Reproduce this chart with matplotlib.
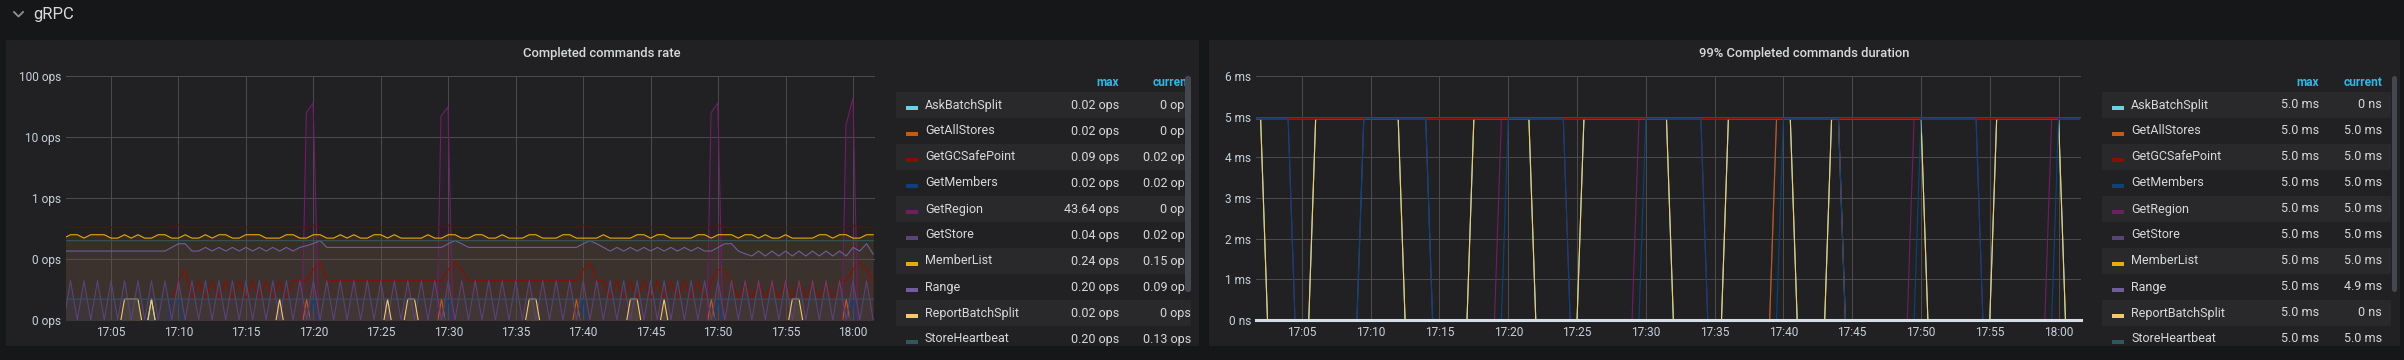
import numpy as np
import matplotlib.pyplot as plt
from matplotlib.patches import Rectangle, FancyBboxPatch

plt.rcParams['font.family'] = ['Roboto', 'DejaVu Sans']

# time is measured in minutes after 17:00
time_ticks = [5, 10, 15, 20, 25, 30, 35, 40, 45, 50, 55, 60]
time_labels = ['17:05', '17:10', '17:15', '17:20', '17:25', '17:30',
               '17:35', '17:40', '17:45', '17:50', '17:55', '18:00']

rate_ticks = [0.01, 0.1, 1, 10, 100]
rate_labels = ['0 ops', '0 ops', '1 ops', '10 ops', '100 ops']
dur_ticks = [0, 1, 2, 3, 4, 5, 6]
dur_labels = ['0 ns', '1 ms', '2 ms', '3 ms', '4 ms', '5 ms', '6 ms']

legend_names = ['AskBatchSplit', 'GetAllStores', 'GetGCSafePoint', 'GetMembers', 'GetRegion',
                'GetStore', 'MemberList', 'Range', 'ReportBatchSplit', 'StoreHeartbeat']
rate_max = ['0.02 ops', '0.02 ops', '0.09 ops', '0.02 ops', '43.64 ops',
            '0.04 ops', '0.24 ops', '0.20 ops', '0.02 ops', '0.20 ops']
rate_current = ['0 ops', '0 ops', '0.02 ops', '0.02 ops', '0 ops',
                '0.02 ops', '0.15 ops', '0.09 ops', '0 ops', '0.13 ops']
dur_max = ['5.0 ms', '5.0 ms', '5.0 ms', '5.0 ms', '5.0 ms',
           '5.0 ms', '5.0 ms', '5.0 ms', '5.0 ms', '5.0 ms']
dur_current = ['0 ns', '5.0 ms', '5.0 ms', '5.0 ms', '5.0 ms',
               '5.0 ms', '5.0 ms', '4.9 ms', '0 ns', '5.0 ms']

colors = {'AskBatchSplit': '#6ED0E0', 'GetAllStores': '#C15C17', 'GetGCSafePoint': '#890F02',
          'GetMembers': '#0A437C', 'GetRegion': '#6D1F62', 'GetStore': '#584477',
          'MemberList': '#E5AC0E', 'Range': '#705DA0', 'ReportBatchSplit': '#F2C96D',
          'StoreHeartbeat': '#2F575E', 'Tso': '#58140C', 'UpdateGCSafePoint': '#34506E'}

# ---- Completed commands rate (ops), 30 s samples starting 17:01:30 ----
rate_start, rate_step = 1.5, 0.5

get_store_rate = [.01, .044, .01, .044, .01, .044, .01, .044, .01, .044,
                  .01, .044, .01, .044, .01, .044, .01, .044, .01, .044,
                  .01, .044, .01, .044, .01, .044, .01, .044, .01, .044,
                  .01, .044, .01, .044, .01, .044, .01, .044, .01, .044,
                  .01, .044, .01, .044, .01, .044, .01, .044, .01, .044,
                  .01, .044, .01, .044, .01, .044, .01, .044, .01, .044,
                  .01, .044, .01, .044, .01, .044, .01, .044, .01, .044,
                  .01, .044, .01, .044, .01, .044, .01, .044, .01, .044,
                  .01, .044, .01, .044, .01, .044, .01, .044, .01, .044,
                  .01, .044, .01, .044, .01, .044, .01, .044, .01, .044,
                  .01, .044, .01, .044, .01, .044, .01, .044, .01, .044,
                  .01, .044, .01, .044, .01, .044, .01, .044, .01, .044, .01]

gc_rate = [0, 0, 0, 0, 0, 0, 0, 0, 0, 0, 0, 0, 0, 0, 0, 0,
           .022, .044, .067, .022,
           .044, .022, .044, .022, .044, .022, .044, .022, .044, .022, .044, .022, .044, .022, .044,
           .044, .044, .067, .089, .044,
           .044, .044, .044, .044, .044, .044, .044, .044, .044, .044, .044, .044, .044, .044, .044, .044, .044,
           .067, .089, .067,
           .044, .044, .044, .044, .044, .044, .044, .044, .044, .044, .044, .044, .044, .044, .044, .044, .044,
           .067, .089, .044, .044,
           .022, .044, .022, .044, .022, .044, .022, .044, .022, .044, .022, .044, .022, .044, .022,
           .044, .067, .067,
           .044, .022, .044, .022, .044, .022, .044, .022, .044, .022, .044, .022, .044, .022, .044, .022, .044,
           .044, .067, .089, .067, .044]

range_rate = [.135, .135, .135, .135, .135, .135, .135, .135, .135, .135, .135, .135, .135, .135, .135, .135,
              .155, .178, .178, .135,
              .135, .155, .135, .155, .135, .155, .135, .155, .135, .155, .135, .155, .135, .155, .135,
              .155, .165, .18, .2, .155,
              .155, .155, .155, .155, .155, .155, .155, .155, .155, .155, .155, .155, .155, .155, .155, .155, .155,
              .178, .2, .178,
              .155, .155, .155, .155, .155, .155, .155, .155, .155, .155, .155, .155, .155, .155, .155, .155, .155,
              .178, .2, .178, .155, .135,
              .155, .135, .155, .135, .155, .135, .155, .135, .155, .135, .155, .135, .155, .135,
              .135, .155, .178, .178, .135, .122, .112,
              .135, .112, .135, .112, .135, .112, .135, .112, .135, .112, .135, .112, .135, .112,
              .155, .135, .178, .12]

member_list_rate = [.22, .25, .25, .22, .25, .25, .25, .22, .22, .25,
                    .22, .25, .22, .22, .25, .25, .22, .22, .25, .22,
                    .22, .25, .22, .25, .25, .22, .22, .25, .25, .25,
                    .22, .22, .22, .25, .25, .22, .22, .25, .25, .22,
                    .22, .25, .22, .25, .22, .22, .25, .25, .22, .25,
                    .22, .22, .22, .22, .25, .22, .22, .25, .25, .22,
                    .22, .25, .25, .22, .22, .25, .22, .22, .22, .25,
                    .25, .22, .22, .22, .25, .25, .22, .22, .22, .22,
                    .25, .22, .22, .22, .22, .25, .25, .22, .25, .25,
                    .22, .22, .22, .22, .25, .25, .22, .25, .25, .25,
                    .22, .25, .25, .22, .25, .22, .22, .25, .22, .22,
                    .22, .22, .25, .25, .22, .25, .25, .22, .22, .25, .25]

# sparse series as (minute, ops) vertices
ask_split_t = [1.5, 7.5, 8.0, 8.5, 61.5]
ask_split_v = [0, 0, .022, 0, 0]
all_stores_t = [1.5, 19.0, 19.5, 20.0, 29.0, 29.5, 30.0, 39.0, 39.5, 40.0, 49.0, 49.5, 50.0, 59.0, 59.5, 60.0, 61.5]
all_stores_v = [0, 0, .022, 0, 0, .022, 0, 0, .022, 0, 0, .022, 0, 0, .022, 0, 0]
members_t = [1.5, 9.0, 9.5, 10.0, 10.5, 19.5, 20.0, 20.5, 29.5, 30.0, 30.5, 39.5, 40.0, 40.5,
             49.5, 50.0, 50.5, 59.5, 60.0, 60.5, 61.5]
members_v = [0, 0, .022, .022, 0, 0, .022, 0, 0, .022, 0, 0, .022, 0, 0, .022, 0, 0, .022, 0, 0]
region_t = [1.5, 19.14, 19.48, 19.98, 20.44, 29.14, 29.46, 29.98, 30.37,
            49.15, 49.48, 49.98, 50.38, 59.16, 59.48, 60.0, 60.39, 61.5]
region_v = [0, 0, 25, 36, 0, 0, 22, 31, 0, 0, 25, 36, 0, 0, 15.8, 43.64, 0, 0]
report_split_t = [1.5, 5.5, 6.0, 7.0, 7.5, 8.0, 8.5, 17.0, 17.5, 18.0, 25.0, 25.5, 26.0,
                  26.5, 27.0, 27.5, 28.0, 35.5, 36.0, 36.5, 37.0, 43.0, 43.5, 44.0, 44.5,
                  45.5, 46.0, 46.5, 55.0, 55.5, 56.0, 56.5, 61.5]
report_split_v = [0, 0, .022, .022, 0, .022, 0, 0, .022, 0, 0, .022, 0,
                  0, .022, .022, 0, 0, .022, .022, 0, 0, .022, .022, 0,
                  0, .022, 0, 0, .022, .022, 0, 0]
heartbeat_t = [1.5, 61.5]
heartbeat_v = [.2, .2]
tso_t = [1.5, 9.5, 10.0, 10.5, 19.5, 20.0, 20.5, 29.5, 30.0, 30.5, 39.5, 40.0, 40.5,
         49.5, 50.0, 50.5, 59.5, 60.0, 60.5, 61.5]
tso_v = [.33, .33, .36, .33, .33, .36, .33, .33, .36, .33, .33, .36, .33,
         .33, .36, .33, .33, .36, .33, .33]
update_gc_t = [1.5, 61.5]
update_gc_v = [.022, .022]

# ---- 99% duration (ms): spans where each method sits at the 5 ms bucket ----
dur_start, dur_end, dur_top = 1.5, 61.5, 4.95
split_spans = [(1.5, 2.0), (6.0, 12.0), (17.5, 21.5), (25.5, 31.5), (36.0, 40.5), (43.5, 50.0), (55.5, 60.0)]
all_stores_spans = [(39.5, 44.0)]
gc_spans = [(1.5, 61.5)]
members_spans = [(1.5, 4.0), (9.5, 14.0), (20.0, 24.0), (30.0, 34.0), (40.0, 44.0), (50.0, 54.0), (60.0, 61.5)]
region_spans = [(1.5, 4.0), (19.5, 24.0), (29.5, 34.0), (49.5, 54.0), (59.5, 61.5)]
store_spans = [(9.5, 14.0), (39.5, 44.0)]
member_list_spans = [(1.5, 61.5)]
range_spans = [(1.5, 61.5)]
heartbeat_spans = [(1.5, 61.5)]


def grid_times(vals):
    return rate_start + rate_step * np.arange(len(vals))


rate_series = [
    ('AskBatchSplit', ask_split_t, ask_split_v),
    ('GetAllStores', all_stores_t, all_stores_v),
    ('GetGCSafePoint', grid_times(gc_rate), gc_rate),
    ('GetMembers', members_t, members_v),
    ('GetRegion', region_t, region_v),
    ('GetStore', grid_times(get_store_rate), get_store_rate),
    ('MemberList', grid_times(member_list_rate), member_list_rate),
    ('Range', grid_times(range_rate), range_rate),
    ('ReportBatchSplit', report_split_t, report_split_v),
    ('StoreHeartbeat', heartbeat_t, heartbeat_v),
    ('Tso', tso_t, tso_v),
    ('UpdateGCSafePoint', update_gc_t, update_gc_v),
]

dur_series = [
    ('MemberList', member_list_spans), ('Range', range_spans), ('StoreHeartbeat', heartbeat_spans),
    ('GetStore', store_spans), ('GetAllStores', all_stores_spans), ('GetRegion', region_spans),
    ('AskBatchSplit', split_spans), ('ReportBatchSplit', split_spans),
    ('GetGCSafePoint', gc_spans), ('GetMembers', members_spans),
]


def span_line(spans):
    t, v = [], []
    for a, b in spans:
        if a > dur_start:
            t += [a - 0.5]; v += [0]
        t += [a, b]; v += [dur_top, dur_top]
        if b < dur_end:
            t += [b + 0.5]; v += [0]
    if t[0] > dur_start:
        t = [dur_start] + t; v = [0] + v
    if t[-1] < dur_end:
        t += [dur_end]; v += [0]
    return t, v


W, H = 2404, 360
BG = '#161719'
PANEL = '#212124'
TEXT = '#d8d9da'
GRID = '#4a4a4d'
fig = plt.figure(figsize=(W / 100, H / 100), dpi=100, facecolor=BG)

bg = fig.add_axes([0, 0, 1, 1])
bg.set_xlim(0, W); bg.set_ylim(H, 0); bg.axis('off')
bg.add_patch(Rectangle((6, 40), 1193, 306, color=PANEL, lw=0))
bg.add_patch(Rectangle((1209, 40), 1191, 306, color=PANEL, lw=0))
bg.plot([14, 18.5, 23], [12, 16.5, 12], color='#8e939a', lw=1.3)
bg.text(33, 14, 'gRPC', va='center', ha='left', fontsize=12, color=TEXT)
bg.text(602, 54, 'Completed commands rate', ha='center', va='center',
        fontsize=9.4, fontweight='medium', color=TEXT)
bg.text(1804, 54, '99% Completed commands duration', ha='center', va='center',
        fontsize=9.4, fontweight='medium', color=TEXT)


def make_axes(x0, x1):
    ax = fig.add_axes([x0 / W, 1 - 320 / H, (x1 - x0) / W, (320 - 76) / H])
    ax.set_facecolor('none')
    for s in ax.spines.values():
        s.set_visible(False)
    ax.tick_params(length=0, colors='#c7d0d9', labelsize=8.6)
    ax.tick_params(axis='x', pad=4.5)
    ax.tick_params(axis='y', pad=3.6)
    ax.set_xlim(1.664, 61.63)
    ax.set_xticks(time_ticks, time_labels)
    ax.grid(True, color=GRID, lw=0.75)
    ax.set_axisbelow(True)
    return ax


floor = 0.005
ax1 = make_axes(66, 875)
ax1.set_yscale('log')
ax1.set_ylim(0.01, 100)
ax1.set_yticks(rate_ticks, rate_labels)
ax1.minorticks_off()
for name, t, v in rate_series:
    v = np.asarray(v, dtype=float)
    v = np.where(v <= 0, floor, v)
    ax1.fill_between(t, floor, v, color=colors[name], alpha=0.1, lw=0)
    ax1.plot(t, v, color=colors[name], lw=0.8, snap=False)

ax2 = make_axes(1256, 2081)
ax2.set_ylim(0, 6)
ax2.set_yticks(dur_ticks, dur_labels)
for name, spans in dur_series:
    t, v = span_line(spans)
    lw = 1.4 if name == 'GetGCSafePoint' else 0.8
    ax2.plot(t, v, color=colors[name], lw=lw, snap=False)
ax2.spines['bottom'].set_visible(True)
ax2.spines['bottom'].set_color('#d5dce6')
ax2.spines['bottom'].set_linewidth(2.2)
ax2.spines['bottom'].set_zorder(5)


def legend(x0, x1, row_x0, row_x1, sw_x, name_x, max_x, cur_x, maxes, currents, thumb_x, thumb_w):
    lax = fig.add_axes([x0 / W, 1 - 344 / H, (x1 - x0) / W, (344 - 62) / H])
    lax.set_xlim(x0, x1); lax.set_ylim(344, 62); lax.axis('off')
    lax.text(max_x, 82, 'max', ha='right', va='center', fontsize=8.6,
             fontweight='bold', color='#33b5e5')
    lax.text(cur_x, 82, 'current', ha='right', va='center', fontsize=8.6,
             fontweight='bold', color='#33b5e5')
    for i, name in enumerate(legend_names):
        yc = 105 + 26 * i
        if i % 2 == 0:
            lax.add_patch(Rectangle((row_x0, yc - 13), row_x1 - row_x0, 26, color='#29292c', lw=0))
        lax.add_patch(Rectangle((sw_x, yc + 1), 12, 3.5, color=colors[name], lw=0))
        lax.text(name_x, yc, name, ha='left', va='center', fontsize=9, color=TEXT)
        lax.text(max_x, yc, maxes[i], ha='right', va='center', fontsize=9, color=TEXT)
        lax.text(cur_x, yc, currents[i], ha='right', va='center', fontsize=9, color=TEXT)
    lax.add_patch(FancyBboxPatch((thumb_x, 76), thumb_w, 216,
                                 boxstyle='round,pad=0,rounding_size=2.5',
                                 color='#45464f', lw=0, zorder=5))


legend(890, 1199, 896, 1191, 906, 925, 1119, 1191, rate_max, rate_current, 1185, 6)
legend(2096, 2400, 2102, 2391, 2112, 2131, 2319, 2382, dur_max, dur_current, 2392, 5)

fig.savefig('out.png', dpi=100, facecolor=BG)
